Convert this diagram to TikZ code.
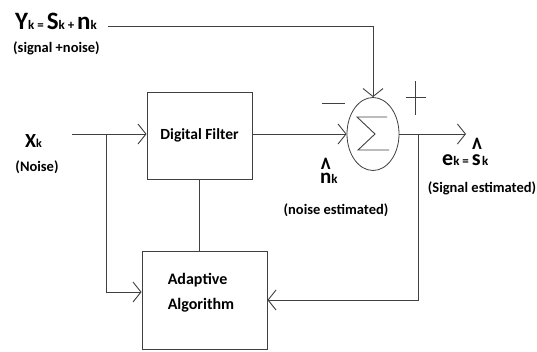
\documentclass[tikz,border=0pt]{standalone}
\usepackage{fontspec}
\usepackage{graphicx}
\setmainfont{Carlito}
\usetikzlibrary{arrows.meta,shapes.geometric}
\newcommand\fsz[1]{\fontsize{#1}{#1}\selectfont}
\newcommand\hatme[2]{\ooalign{\hfil\raisebox{#2}{\fsz{26}\scalebox{0.8}[1.2]{\textasciicircum}}\hfil\cr #1\cr}}
\begin{document}
\begin{tikzpicture}[x=1pt,y=-1pt,
  ln/.style={draw=black!75, line width=0.9pt},
  arr/.style={ln, -{Straight Barb[length=8pt,width=20pt]}},
  box/.style={draw=black!75, line width=0.9pt, rectangle, inner sep=0pt, font=\bfseries\fsz{15.5}},
  lbl/.style={inner sep=0pt, font=\bfseries},
  paren/.style={inner sep=0pt, font=\bfseries\fsz{14.5}}]
\useasboundingbox (0,0) rectangle (537,351);
% blocks
\node[box, minimum width=105pt, minimum height=87pt] (filter) at (199.5,135.5) {Digital Filter};
\node[box, minimum width=125pt, minimum height=98pt] (adapt) at (204.5,300) {};
\node[lbl, align=left, font=\bfseries\fontsize{16}{25}\selectfont] (adtext) at (201,293) {Adaptive\\Algorithm};
\node[ellipse, draw=black!75, line width=0.8pt, minimum width=52pt, minimum height=73pt, inner sep=0pt] (sum) at (373,134) {};
\draw[ln, line join=miter] ([shift={(14,-17)}]sum.center) -- ([shift={(-16,-17)}]sum.center)
  -- ([shift={(2,0)}]sum.center) -- ([shift={(-15,16)}]sum.center) -- ([shift={(16,16)}]sum.center);
% labels
\node[lbl, anchor=base west] (yk) at (15,29) {{\fsz{25}Y}{\fsz{13}k = }{\fsz{25}S}{\fsz{13}k + }{\fsz{25}n}{\fsz{13}k}};
\node[paren, anchor=base west] (sn) at (13,52) {(signal +noise)};
\node[lbl, anchor=base west] (xk) at (25,147) {{\fsz{20}X}{\fsz{12}k}};
\node[paren] (noise) at (37,167) {(Noise)};
\node[lbl, anchor=base west] (nh) at (320,183) {\hatme{\fsz{21}n}{3.5pt}{\fsz{13}k}};
\node[paren] (nest) at (336,210) {(noise estimated)};
\node[lbl, anchor=base west] (ek) at (442,165) {{\fsz{22}e}{\fsz{13}k = }\hatme{\fsz{22}s}{5.5pt}{\fsz{13}k}};
\node[paren] (sest) at (482,188) {(Signal estimated)};
% connectors
\coordinate (ykend) at (108,26);
\draw[arr] (ykend) -| (sum.north);
\coordinate (xin) at (72,134);
\draw[arr] (xin) -- (filter.west |- xin);
\coordinate (br) at (106,134);
\coordinate (brlow) at (106,292);
\draw[arr] (br) -- (brlow) -- (adapt.west |- brlow);
\draw[arr] (filter.east |- sum.west) -- (sum.west);
\draw[ln] (filter.south) -- (adapt.north -| filter.south);
\coordinate (out) at (466,134);
\draw[arr] (sum.east) -- (out);
\coordinate (fb) at (418,134);
\draw[arr] (fb) |- (adapt.east);
% signs
\coordinate (m1) at (322,103); \coordinate (m2) at (345,103);
\draw[ln] (m1) -- (m2);
\coordinate (p1) at (415,81); \coordinate (p2) at (415,115);
\coordinate (p3) at (406,97); \coordinate (p4) at (426,97);
\draw[ln] (p1) -- (p2) (p3) -- (p4);
\end{tikzpicture}
\end{document}
